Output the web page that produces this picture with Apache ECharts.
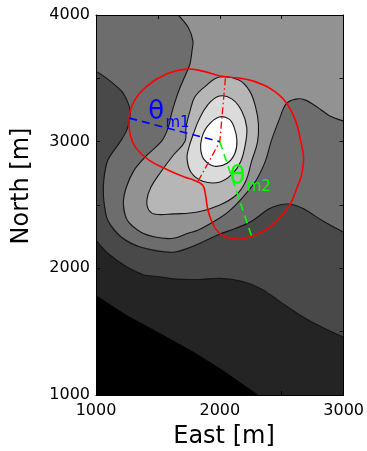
<!DOCTYPE html>
<html><head><meta charset="utf-8">
<script src="https://cdn.jsdelivr.net/npm/echarts@6/dist/echarts.min.js"></script>
<style>html,body{margin:0;padding:0;background:#fff}#c{width:367px;height:451px}</style>
</head><body><div id="c"></div>
<script>
// ---- tick labels ----
const xTickLabels = [1000, 2000, 3000];
const yTickLabels = [1000, 2000, 3000, 4000];

// ---- contour boundaries [East m, North m] ----
const contour01 = [[2312,1000],[2004,1210],[1783,1344],[1522,1486],[1253,1628],[1000,1787]];
const contour12 = [[3000,1455],[2810,1542],[2652,1628],[2494,1731],[2344,1834],[2178,1897],[2004,1921],[1830,1912],[1650,1915],[1482,1937],[1387,1948],[1253,2008],[1095,2119],[1000,2221]];
const contour23 = [[1000,3557],[1095,3494],[1206,3399],[1253,3320],[1277,3241],[1269,3162],[1245,3083],[1198,3004],[1095,2854],[1063,2696],[1063,2538],[1095,2379],[1206,2245],[1364,2166],[1624,2127],[1822,2190],[1996,2269],[2130,2316],[2257,2372],[2391,2466],[2480,2500],[2573,2506],[2668,2474],[2850,2364],[3000,2285]];
const contour34 = [[1664,4000],[1743,3905],[1783,3794],[1775,3715],[1759,3613],[1719,3518],[1680,3431],[1640,3320],[1609,3217],[1585,3115],[1530,3004],[1411,2893],[1308,2775],[1245,2640],[1221,2514],[1253,2379],[1364,2285],[1490,2245],[1624,2237],[1743,2277],[1822,2300],[1996,2395],[2075,2451],[2178,2553],[2289,2688],[2368,2846],[2415,3004],[2478,3170],[2534,3296],[2613,3336],[2692,3328],[2787,3273],[2889,3202],[3000,3162]];
const contour45 = [[1996,3510],[2154,3486],[2241,3399],[2289,3273],[2312,3138],[2304,2996],[2257,2846],[2209,2688],[2130,2577],[1996,2498],[1822,2445],[1624,2430],[1482,2427],[1427,2459],[1411,2538],[1443,2640],[1522,2759],[1624,2893],[1719,3004],[1727,3115],[1759,3241],[1798,3352],[1885,3439]];
const contour56 = [[1996,3360],[2099,3336],[2178,3241],[2217,3115],[2209,2996],[2170,2846],[2099,2743],[1996,2680],[1862,2688],[1767,2759],[1735,2870],[1751,2957],[1783,3051],[1830,3170],[1901,3289]];
const contour67 = [[1996,3194],[2075,3178],[2115,3115],[2138,3012],[2122,2909],[2059,2830],[1957,2806],[1877,2854],[1846,2933],[1854,3028],[1901,3123]];

// ---- overlay curves ----
const redLoop = [[1727,3573],[1862,3557],[2004,3518],[2154,3502],[2273,3478],[2415,3415],[2534,3312],[2613,3162],[2652,3012],[2676,2877],[2660,2735],[2628,2648],[2573,2514],[2494,2411],[2391,2316],[2257,2253],[2154,2229],[2059,2245],[1996,2277],[1941,2356],[1901,2474],[1885,2577],[1862,2656],[1791,2696],[1719,2719],[1585,2775],[1427,2854],[1324,2949],[1277,3051],[1269,3194],[1308,3320],[1411,3439],[1569,3534]];
const blueLine = [[1269,3186],[2000,3000]];
const greenLine = [[2000,3000],[2257,2253]];
const redDashDot = [[2045,3500],[2000,3000],[1820,2680]];

// ---- annotations ----
const labelTheta1 = {main:'θ', sub:'m1', at:[1486,3229], subAt:[1561,3146]};
const labelTheta2 = {main:'θ', sub:'m2', at:[2142,2719], subAt:[2217,2644]};

// ---- filled regions (superlevel sets) ----
const levelColors = ['#000000','#242424','#494949','#6d6d6d','#929292','#b6b6b6','#dbdbdb','#ffffff'];
const regions = [
  {pts: [[1000,4000],[3000,4000],[3000,1000]].concat(contour01), color: levelColors[1], smooth: 0},
  {pts: [[1000,4000],[3000,4000]].concat(contour12), color: levelColors[2], smooth: 0},
  {pts: [[1000,4000]].concat(contour23, [[3000,4000]]), color: levelColors[3], smooth: 0},
  {pts: contour34.concat([[3000,4000]]), color: levelColors[4], smooth: 0},
  {pts: contour45, color: levelColors[5], smooth: 0.4, stroke: true},
  {pts: contour56, color: levelColors[6], smooth: 0.4, stroke: true},
  {pts: contour67, color: levelColors[7], smooth: 0.4, stroke: true}
];
const openLines = [contour12, contour23, contour34];

const chart = echarts.init(document.getElementById('c'));
const FONT = '"DejaVu Sans", "Liberation Sans", sans-serif';

function axisCommon(extra) {
  return Object.assign({
    type: 'value', interval: 500, z: 10,
    axisLine: {show: true, onZero: false, lineStyle: {color: '#000', width: 1}},
    axisTick: {show: true, inside: true, length: 4, lineStyle: {color: '#000', width: 1}},
    splitLine: {show: false}
  }, extra);
}

chart.setOption({
  animation: false,
  grid: {left: 96, right: 18, top: 15, bottom: 56, show: true, backgroundColor: levelColors[0], borderWidth: 0},
  xAxis: [
    axisCommon({min: 1000, max: 3000, position: 'bottom',
      axisLabel: {show: true, color: '#000', fontSize: 16, fontFamily: FONT, margin: 8, showMinLabel: true, showMaxLabel: true,
        formatter: v => xTickLabels.includes(v) ? String(v) : ''}}),
    axisCommon({min: 1000, max: 3000, position: 'top', axisLabel: {show: false}})
  ],
  yAxis: [
    axisCommon({min: 1000, max: 4000, position: 'left',
      axisLabel: {show: true, color: '#000', fontSize: 16, fontFamily: FONT, margin: 6, showMinLabel: true, showMaxLabel: true,
        formatter: v => yTickLabels.includes(v) ? String(v) : ''}}),
    axisCommon({min: 1000, max: 4000, position: 'right', axisLabel: {show: false}})
  ],
  graphic: [
    {type: 'text', x: 224, y: 437, style: {text: 'East [m]', font: '24px ' + FONT, fill: '#000', align: 'center', verticalAlign: 'middle'}},
    {type: 'text', x: 22, y: 186, rotation: Math.PI / 2, style: {text: 'North [m]', font: '24px ' + FONT, fill: '#000', align: 'center', verticalAlign: 'middle'}}
  ],
  series: [
    {
      type: 'custom', name: 'fills', clip: true, xAxisIndex: 0, yAxisIndex: 0, z: 2,
      data: regions.map((r, i) => [i]),
      renderItem: function (params, api) {
        const r = regions[params.dataIndex];
        return {
          type: 'polygon',
          shape: {points: r.pts.map(p => api.coord(p)), smooth: r.smooth},
          style: {fill: r.color, stroke: r.stroke ? '#141414' : null, lineWidth: 1.1}
        };
      }
    },
    {
      type: 'custom', name: 'contourLines', clip: true, xAxisIndex: 0, yAxisIndex: 0, z: 3,
      data: openLines.map((l, i) => [i]),
      renderItem: function (params, api) {
        return {
          type: 'polyline',
          shape: {points: openLines[params.dataIndex].map(p => api.coord(p)), smooth: 0.3},
          style: {fill: null, stroke: '#141414', lineWidth: 1.1}
        };
      }
    },
    {
      type: 'custom', name: 'overlay', clip: true, xAxisIndex: 0, yAxisIndex: 0, z: 4,
      data: [[0]],
      renderItem: function (params, api) {
        const c = p => api.coord(p);
        return {
          type: 'group',
          children: [
            {type: 'polygon', shape: {points: redLoop.map(c), smooth: 0.4}, style: {fill: null, stroke: '#ff0000', lineWidth: 1.6}},
            {type: 'polyline', shape: {points: redDashDot.map(c)}, style: {fill: null, stroke: '#ff0000', lineWidth: 1.3, lineDash: [7, 3, 1.5, 3]}},
            {type: 'polyline', shape: {points: blueLine.map(c)}, style: {fill: null, stroke: '#0000ff', lineWidth: 1.6, lineDash: [8, 5]}},
            {type: 'polyline', shape: {points: greenLine.map(c)}, style: {fill: null, stroke: '#00ff00', lineWidth: 1.6, lineDash: [8, 5]}},
            {type: 'text', x: c(labelTheta1.at)[0], y: c(labelTheta1.at)[1], style: {text: labelTheta1.main, font: '26px ' + FONT, fill: '#0000ff', align: 'center', verticalAlign: 'middle'}},
            {type: 'text', x: c(labelTheta1.subAt)[0], y: c(labelTheta1.subAt)[1], style: {text: labelTheta1.sub, font: '15px ' + FONT, fill: '#0000ff', align: 'left', verticalAlign: 'middle'}},
            {type: 'text', x: c(labelTheta2.at)[0], y: c(labelTheta2.at)[1], style: {text: labelTheta2.main, font: '26px ' + FONT, fill: '#00ff00', align: 'center', verticalAlign: 'middle'}},
            {type: 'text', x: c(labelTheta2.subAt)[0], y: c(labelTheta2.subAt)[1], style: {text: labelTheta2.sub, font: '15px ' + FONT, fill: '#00ff00', align: 'left', verticalAlign: 'middle'}}
          ]
        };
      }
    }
  ]
});
</script>
</body></html>
